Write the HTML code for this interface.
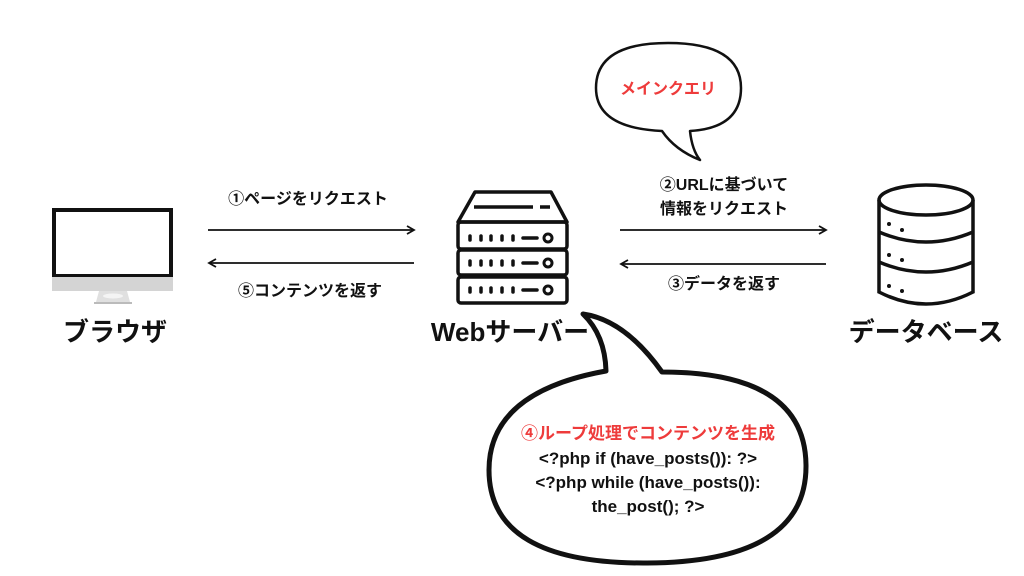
<!DOCTYPE html>
<html><head><meta charset="utf-8"><style>
body{margin:0;width:1024px;height:576px;background:#fff;overflow:hidden;}
svg{display:block}
text{font-family:"Liberation Sans","Noto Sans CJK JP",sans-serif;font-weight:bold;}
</style></head><body>
<svg width="1024" height="576" viewBox="0 0 1024 576">
<defs><marker id="a" markerWidth="10" markerHeight="10" refX="8" refY="5" orient="auto" markerUnits="userSpaceOnUse"><path d="M1,1 L8,5 L1,9" fill="none" stroke="#111" stroke-width="1.8"/></marker></defs>
<!-- monitor -->
<rect x="54" y="210" width="117" height="66" fill="#fff" stroke="#111" stroke-width="4"/>
<rect x="52" y="277" width="121" height="14" fill="#d4d4d4"/>
<path d="M99,291 L127,291 L130,302 L96,302 Z" fill="#e0e0e0"/>
<ellipse cx="113" cy="296" rx="10" ry="2.5" fill="#f4f4f4"/>
<rect x="94" y="302" width="38" height="2" fill="#bbb"/>
<!-- server -->
<g fill="none" stroke="#111" stroke-width="3.5" stroke-linejoin="round">
<path d="M475,192 L551,192 L567,222 L458,222 Z"/>
<rect x="458" y="222" width="109" height="27" rx="3"/>
<rect x="458" y="250" width="109" height="25" rx="3"/>
<rect x="458" y="277" width="109" height="26" rx="3"/>
<line x1="474" y1="207" x2="533" y2="207"/><line x1="540" y1="207" x2="550" y2="207"/>
</g>
<g stroke="#111" stroke-width="3.5" stroke-linecap="round">
<g id="r"><line x1="470" y1="236" x2="470" y2="240"/><line x1="481" y1="236" x2="481" y2="240"/><line x1="491" y1="236" x2="491" y2="240"/><line x1="502" y1="236" x2="502" y2="240"/><line x1="513" y1="236" x2="513" y2="240"/><line x1="523" y1="238" x2="537" y2="238"/></g>
<use href="#r" y="25"/><use href="#r" y="52"/>
</g>
<g fill="none" stroke="#111" stroke-width="3"><circle cx="548" cy="238" r="4"/><circle cx="548" cy="263" r="4"/><circle cx="548" cy="290" r="4"/></g>
<!-- db -->
<g fill="none" stroke="#111" stroke-width="3.5">
<ellipse cx="926" cy="200" rx="47" ry="15"/>
<path d="M879,200 L879,292 Q926,316 973,292 L973,200"/>
<path d="M879,232 Q926,252 973,232"/><path d="M879,262 Q926,282 973,262"/>
</g>
<g fill="#111"><circle cx="889" cy="224" r="2"/><circle cx="902" cy="230" r="2"/><circle cx="889" cy="255" r="2"/><circle cx="902" cy="260" r="2"/><circle cx="889" cy="286" r="2"/><circle cx="902" cy="291" r="2"/></g>
<!-- arrows -->
<g stroke="#111" stroke-width="1.8">
<line x1="208" y1="230" x2="414" y2="230" marker-end="url(#a)"/>
<line x1="414" y1="263" x2="209" y2="263" marker-end="url(#a)"/>
<line x1="620" y1="230" x2="826" y2="230" marker-end="url(#a)"/>
<line x1="826" y1="264" x2="621" y2="264" marker-end="url(#a)"/>
</g>
<!-- labels -->
<g text-anchor="middle" fill="#111">
<text x="308" y="204" font-size="16">①ページをリクエスト</text>
<text x="310" y="296" font-size="16">⑤コンテンツを返す</text>
<text x="724" y="190" font-size="16">②URLに基づいて</text>
<text x="724" y="214" font-size="16">情報をリクエスト</text>
<text x="724" y="289" font-size="16">③データを返す</text>
<text x="115" y="341" font-size="26">ブラウザ</text>
<text x="510" y="341" font-size="26">Webサーバー</text>
<text x="926" y="341" font-size="26">データベース</text>
</g>
<!-- small bubble -->
<path d="M662,131 Q596,128 596,88 Q596,43 668,43 Q741,43 741,88 Q741,128 690,131 Q692,150 700,160 Q675,150 662,131 Z" fill="#fff" stroke="#111" stroke-width="2.5" stroke-linejoin="round"/>
<text x="668" y="94" font-size="16" fill="#ee3b3b" text-anchor="middle">メインクエリ</text>
<!-- big bubble -->
<path d="M662,372 Q805,372 806,465 Q807,562 647,563 Q489,564 489,470 Q489,392 606,371 Q605,335 583,314 Q625,320 662,372 Z" fill="#fff" stroke="#111" stroke-width="5" stroke-linejoin="round"/>
<g text-anchor="middle" font-size="17">
<text x="648" y="439" fill="#ee3b3b">④ループ処理でコンテンツを生成</text>
<text x="648" y="464" fill="#111">&lt;?php if (have_posts()): ?&gt;</text>
<text x="648" y="488" fill="#111">&lt;?php while (have_posts()):</text>
<text x="648" y="512" fill="#111">the_post(); ?&gt;</text>
</g>
</svg>
</body></html>
